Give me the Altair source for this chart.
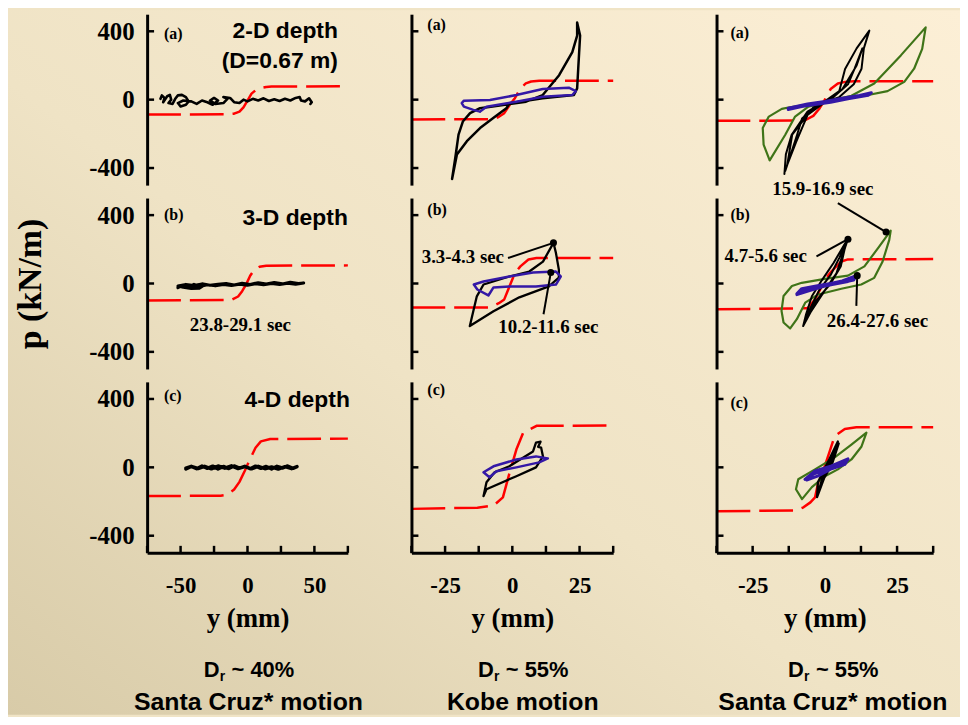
import altair as alt
import pandas as pd

# ---------------- data (y in mm, p in kN/m) ----------------
# red dashed backbone p-y curves
red_1a_y = [-75, -15, -10, -6, -3, 0, 3, 6, 10, 14, 18, 75]
red_1a_p = [-87, -86, -82, -70, -45, -5, 35, 55, 68, 74, 77, 78]
red_1b_y = [-75, -12, -7, -4, -1, 2, 5, 9, 14, 75]
red_1b_p = [-99, -96, -76, -45, -5, 45, 80, 98, 104, 106]
red_1c_y = [-75, -20, -15, -10, -6, -2, 2, 6, 10, 17, 75]
red_1c_p = [-168, -166, -160, -130, -85, -20, 50, 115, 152, 166, 168]
red_2a_y = [-37.5, -7, -5, -3, -1, 1, 3, 5, 7, 10, 37.5]
red_2a_p = [-116, -114, -100, -79, -31, 10, 66, 95, 106, 110, 110]
red_2b_y = [-37.5, -9, -7, -5, -3, -1, 1, 3, 6, 9, 37.5]
red_2b_p = [-141, -140, -131, -115, -93, -15, 62, 100, 140, 149, 149]
red_2c_y = [-37.5, -13, -7, -3.5, -1, 1.5, 4, 9, 37.5]
red_2c_p = [-243, -236, -224, -176, -31, 104, 201, 243, 245]
red_3a_y = [-37.5, -7, -4, -2, 0, 2, 4.5, 7, 10, 37.5]
red_3a_p = [-124, -122, -95, -55, 0, 62, 95, 104, 108, 108]
red_3b_y = [-37.5, -6, -3.4, -1.5, 0, 2.3, 5.7, 8, 37.5]
red_3b_p = [-151, -145, -93, -30, 23, 71, 129, 141, 143]
red_3c_y = [-37.5, -10, -7.4, -5, -3.4, -2.3, 0, 1.7, 3.4, 6.9, 10.9, 37.5]
red_3c_p = [-257, -252, -234, -205, -176, -89, 8, 95, 182, 224, 234, 235]

# black measured loops
bk_1a_y = [-65, -64, -62, -63, -60, -58, -57, -59, -56, -54, -52, -49, -46, -44, -46, -50, -52, -48, -42,
           -38, -34, -30, -26, -22, -25, -28, -24, -18, -15, -18, -13, -10, -6, -3, 0, 4, 8, 12, 16, 20,
           24, 28, 32, 36, 39, 40, 43, 46, 48, 47]
bk_1a_p = [5, 25, 10, -15, 20, 28, 0, -20, -25, 5, 25, 28, 15, -10, -30, -40, -20, -5, -10,
           -25, -5, -15, -30, -5, 10, -5, -25, -20, 5, 15, 10, -15, -20, 0, -10, 5, -5, 8, -8, 2,
           -8, 5, -5, 10, 15, -5, -10, 8, -15, -25]
bk_1b_y = [-52, -48, -44, -40, -36, -32, -36, -42, -48, -52, -46, -40, -34, -28, -22, -16, -10, -4, 2, 8,
           14, 20, 26, 32, 38, 42, 36, 30, 24, 18, 12, 6, 0, -6, -12, -18, -24, -30, -36, -42, -48]
bk_1b_p = [-25, -10, -20, -5, -18, -8, -28, -30, -22, -15, -5, -12, -2, -10, -5, 0, -8, 2, -5, 5,
           -3, 6, -2, 8, 0, 3, -5, 2, -6, 0, -8, -2, -10, -4, -12, -6, -14, -8, -18, -12, -20]
bk_1c_y = [-46, -42, -38, -34, -30, -26, -22, -18, -14, -10, -6, -2, 2, 6, 10, 14, 18, 22, 26, 30,
           34, 37, 33, 28, 23, 18, 13, 8, 3, -2, -7, -12, -17, -22, -27, -32, -37, -42, -46]
bk_1c_p = [-5, 6, -8, 8, -6, 7, -9, 5, -7, 8, -5, 6, -8, 7, -6, 5, -10, 6, -4, 8,
           -6, 4, -8, 4, -10, 2, -8, 6, -9, 4, -7, 9, -5, 8, -9, 6, -7, 5, -10]
bk_2a_y = [-22.4, -21.2, -20, -18.4, -15.7, -12, -3.4, 5.1, 11.3, 17.4, 22.3, 24.1, 24.1, 25.2, 24.5,
           24.1, 22.9, 11.3, -1, -2.2, -7.1, -12, -16.9, -20.6, -22.4]
bk_2a_p = [-464, -340, -205, -128, -79, -50, -31, -12, 27, 143, 278, 375, 452, 375, 181,
           66, 27, 8, -21, -50, -108, -166, -243, -321, -464]
bk_2b_y = [-15.8, -13.2, -10.7, -1.1, 6.3, 11.4, 15.3, 16.2, 17.3, 17.3, 13.6, 2.6, -7, -15.8]
bk_2b_p = [-249, -75, -6, 41, 70, 128, 238, 180, 81, 35, -17, -81, -162, -249]
bk_2c_y = [-10.7, -9.6, -6.6, -1.1, 7.7, 8.8, 10.5, 9.6, 10.7, 11.4, 8.8, 1.5, -9.6, -10.7]
bk_2c_p = [-168, -87, -29, 6, 93, 145, 150, 120, 116, 64, 0, -52, -128, -168]
bk_3a_y = [-14, -13.5, -11.5, -6, 0, 5, 7, 11, 15.4, 13.5, 12.7, 10, 5, -2.4, -7.9, -9.6, -12, -13.7,
           -13, -11.3, -4, 3, 8, 10.3, 13, 11, 6, 0, -6, -10, -13]
bk_3a_p = [-435, -320, -205, -70, -10, 50, 180, 300, 404, 300, 181, 90, 15, -29, -110, -205, -330, -417,
           -380, -205, -45, 15, 90, 181, 300, 200, 60, -15, -90, -250, -380]
bk_3b_y = [-7.5, -6.5, -4.5, -1, 3, 7.9, 6.8, 5.5, 2, -3, -7.5, -5.5, -2, 2, 5, 7.9, 4, 0, -5, -7.5]
bk_3b_p = [-249, -180, -75, 20, 120, 261, 197, 100, 0, -100, -249, -160, -40, 50, 150, 255, 60, -40, -170, -249]
bk_3c_y = [-2.7, -2.4, 1, 4.5, 3.4, -0.7, -2.7, -1.5, 2, 4.8, 2.5, -1.5]
bk_3c_p = [-174, -87, 29, 151, 64, -52, -174, -120, 40, 140, 20, -100]

# blue measured loops
bl_2a_y = [-12, -9.6, 1.5, 11.3, 22.3, 23.6, 21, 11.3, 1.5, -8.3, -18, -18.8, -18, -14.5, -12]
bl_2a_p = [-70, -41, -12, 17, 27, 50, 70, 62, 27, -2, -6, -20, -41, -60, -70]
bl_2b_y = [-14.3, -10.7, -1.1, 7.7, 16.2, 18, 16.2, 8.8, -1.1, -7, -8.9, -13, -14.3]
bl_2b_p = [-6, 12, 41, 64, 70, 41, -6, -17, -17, -23, -70, -35, -6]
bl_2c_y = [-10.7, -7, 1.5, 8.8, 13.2, 10, 1.5, -5.9, -8.5, -10.7]
bl_2c_p = [-29, 6, 46, 64, 52, 29, 0, -23, -58, -29]
bl_3a_y = [-12.7, -6, 0, 6, 12, 16.1, 15, 8, 2, -4, -10, -12.7, -8, -2, 4, 10, 15]
bl_3a_p = [-50, -25, -10, 8, 25, 40, 25, 5, -15, -30, -45, -58, -40, -22, -5, 12, 30]
bl_3b_y = [-9.7, -8, -3, 2, 6, 10.9, 10, 6, 0, -5, -9.7, -8, -3, 3, 8, 10.9]
bl_3b_p = [-60, -30, -15, 0, 15, 46, 20, 5, -15, -40, -65, -45, -25, -5, 12, 35]
bl_3c_y = [-6.9, -3.4, 2.3, 8, 6.9, 2.3, -2.3, -6.3, -4, 1, 5, 8]
bl_3c_p = [-70, -21, 8, 50, 17, -8, -50, -74, -40, -10, 20, 45]

# green measured loops
gr_3a_y = [-19.1, -21.2, -21.5, -19.4, -14.9, -12.6, 0, 9.2, 17.1, 26.3, 34.9, 33.7, 30.9, 27.5, 21.7,
           13.7, 3.4, -5.7, -10.3, -13.7, -19.1]
gr_3a_p = [-355, -263, -166, -99, -54, -46, -12, 23, 95, 259, 423, 297, 181, 104, 50,
           23, -2, -41, -99, -205, -355]
gr_3b_y = [-12, -14.3, -15, -14.3, -11.4, -8, 0, 8, 13.7, 18.8, 22.8, 22.3, 20, 17.1, 12.6, 5.7, -2.3, -6.8, -9.7, -12]
gr_3b_p = [-263, -228, -160, -73, -15, 4, 27, 46, 100, 216, 309, 255, 129, 33, -6, -31, -64, -112, -209, -263]
gr_3c_y = [-7.9, -10, -9.2, -3.4, 3.4, 9.2, 14.4, 12.7, 9.2, 4.5, 0, -4.5, -7.9]
gr_3c_p = [-186, -128, -70, -12, 58, 133, 203, 122, 46, -12, -52, -116, -186]

# annotations (text, y, p)
ann_1b_text = ["23.8-29.1 sec"]
ann_1b_y = [-5.3]
ann_1b_p = [-241]
ann_2b_text = ["3.3-4.3 sec", "10.2-11.6 sec"]
ann_2b_y = [-18.4, 13.4]
ann_2b_p = [157, -252]
ann_3b_text = ["15.9-16.9 sec", "4.7-5.6 sec", "26.4-27.6 sec"]
ann_3b_y = [-0.7, -20.5, 18.2]
ann_3b_p = [551, 159, -217]
# leader lines (from text to dot) and dots
lead_2b_y1 = [-1.6, 11.6]
lead_2b_p1 = [149, -180]
dot_2b_y = [15.3, 14.3]
dot_2b_p = [238, 64]
lead_3b_y1 = [4.5, -2.9, 10.9]
lead_3b_p1 = [470, 158, -131]
dot_3b_y = [21.2, 8, 11.2]
dot_3b_p = [301, 259, 46]

# axes
p_ticks = [-400, 0, 400]
y_dom_1 = [-75, 75]
y_dom_23 = [-37.5, 37.5]
y_ticks_1 = [-75, -50, -25, 0, 25, 50, 75]
y_ticks_23 = [-37.5, -25, -12.5, 0, 12.5, 25, 37.5]
y_labels_1 = [-50, 0, 50]
y_labels_23 = [-25, 0, 25]
panel_tags = ["(a)", "(b)", "(c)"]
depth_titles = ["2-D depth", "3-D depth", "4-D depth"]
dr_values = ["~ 40%", "~ 55%", "~ 55%"]
motions = ["Santa Cruz* motion", "Kobe motion", "Santa Cruz* motion"]

# ---------------- styling ----------------
SERIF = "Liberation Serif"
SANS = "Liberation Sans"
RED = "#ff0000"
BLUE = "#3418a6"
GREEN = "#3f7418"
W = [202, 203, 218]
H = 172

def path_df(xs, ps):
    return pd.DataFrame({"y": xs, "p": ps, "i": list(range(len(xs)))})

one = pd.DataFrame({"k": [0]})


def enc_x(col, row, field="y"):
    dom = y_dom_1 if col == 0 else y_dom_23
    if row == 2:
        ax = alt.Axis(values=y_labels_1 if col == 0 else y_labels_23,
                      labelExpr="'' + datum.value", ticks=False, grid=False,
                      domainColor="black", domainWidth=3, labelFont=SERIF,
                      labelFontWeight="bold", labelFontSize=23, labelColor="black",
                      labelPadding=22, labelFlush=False, labelOverlap=False,
                      title="y (mm)", titleFont=SERIF, titleFontSize=27,
                      titleFontWeight="bold", titleColor="black", titlePadding=8, zindex=1)
    else:
        ax = None
    return alt.X(f"{field}:Q", scale=alt.Scale(domain=dom, nice=False, zero=False), axis=ax)


def enc_y(col, row, field="p"):
    if col == 0:
        kw = dict(values=p_ticks, labelExpr="'' + datum.value", ticks=False, grid=False,
                  domainColor="black", domainWidth=3, labelFont=SERIF, labelFontWeight="bold",
                  labelFontSize=25, labelColor="black", labelPadding=13, labelFlush=False,
                  labelOverlap=False, zindex=1)
        if row == 1:
            kw.update(title="p (kN/m)", titleFont=SERIF, titleFontSize=34, titleFontWeight="bold",
                      titleColor="black", titleX=-117, titleY=86, titleAngle=270,
                      titleBaseline="middle", titleAlign="center")
        else:
            kw.update(title=None)
        ax = alt.Axis(**kw)
    else:
        ax = alt.Axis(labels=False, ticks=False, grid=False, domainColor="black",
                      domainWidth=3, title=None, zindex=1)
    return alt.Y(f"{field}:Q", scale=alt.Scale(domain=[-500, 500], nice=False, zero=False), axis=ax)


def line(col, row, xs, ps, color, width, dash=None):
    kw = dict(color=color, strokeWidth=width, strokeJoin="round", strokeCap="round")
    if dash:
        kw["strokeDash"] = dash
        kw["strokeCap"] = "butt"
    return alt.Chart(path_df(xs, ps)).mark_line(**kw).encode(
        x=enc_x(col, row), y=enc_y(col, row), order=alt.Order("i:Q"))


def text_px(col, row, txt, x, y, font, size, align="left", baseline="middle"):
    return alt.Chart(one).mark_text(text=txt, font=font, fontSize=size, fontWeight="bold",
                                    color="black", align=align, baseline=baseline).encode(
        x=alt.value(x), y=alt.value(y))


def panel(col, row, red, loops, tag_pos, extra=None):
    layers = []
    if col == 0 and row == 0:
        grad = alt.LinearGradient(
            gradient="linear",
            stops=[alt.GradientStop(offset=0, color="#d8cba8"),
                   alt.GradientStop(offset=0.45, color="#efe3c5"),
                   alt.GradientStop(offset=1, color="#fcefd6")],
            x1=0, y1=1, x2=1, y2=0)
        layers.append(alt.Chart(one).mark_rect(color=grad).encode(
            x=alt.value(-140), x2=alt.value(818), y=alt.value(-4), y2=alt.value(705)))
    layers.append(line(col, row, red[0], red[1], RED, 2.5, dash=[34, 9]))
    for xs, ps, c, w in loops:
        layers.append(line(col, row, xs, ps, c, w))
    # inward ticks on p axis
    layers.append(alt.Chart(pd.DataFrame({"p": p_ticks})).mark_rule(color="black", strokeWidth=2.5).encode(
        y=enc_y(col, row), x=alt.value(0), x2=alt.value(7)))
    if row == 2:
        tk = y_ticks_1 if col == 0 else y_ticks_23
        layers.append(alt.Chart(pd.DataFrame({"y": tk})).mark_rule(color="black", strokeWidth=2.5).encode(
            x=enc_x(col, row), y=alt.value(H), y2=alt.value(H - 7)))
    layers.append(text_px(col, row, panel_tags[row], tag_pos[0], tag_pos[1], SERIF, 16))
    if extra:
        layers.extend(extra)
    return alt.layer(*layers).properties(width=W[col], height=H)


def annotations(col, row, texts, ys, ps, ly=None, lp=None, dy=None, dp=None):
    out = []
    if ly is not None:
        out.append(alt.Chart(pd.DataFrame({"y": ly, "p": lp, "y2": dy, "p2": dp})).mark_rule(
            color="black", strokeWidth=2).encode(
            x=enc_x(col, row), y=enc_y(col, row), x2="y2:Q", y2="p2:Q"))
        out.append(alt.Chart(pd.DataFrame({"y": dy, "p": dp})).mark_circle(
            color="black", size=50, opacity=1).encode(x=enc_x(col, row), y=enc_y(col, row)))
    out.append(alt.Chart(pd.DataFrame({"y": ys, "p": ps, "t": texts})).mark_text(
        font=SERIF, fontSize=19, fontWeight="bold", color="black", baseline="middle").encode(
        x=enc_x(col, row), y=enc_y(col, row), text="t:N"))
    return out


def captions(col, center):
    c = center
    return [
        text_px(col, 2, "D", c - 45, 290, SANS, 22),
        text_px(col, 2, "r", c - 29, 297, SANS, 14),
        text_px(col, 2, dr_values[col], c - 17, 290, SANS, 22),
        text_px(col, 2, motions[col], c, 322, SANS, 25, align="center"),
    ]


# column 1
p1a = panel(0, 0, (red_1a_y, red_1a_p), [(bk_1a_y, bk_1a_p, "black", 2.6)], (17, 19.5),
            extra=[text_px(0, 0, depth_titles[0], 192, 16.5, SANS, 23, align="right"),
                   text_px(0, 0, "(D=0.67 m)", 192, 47, SANS, 23, align="right")])
p1b = panel(0, 1, (red_1b_y, red_1b_p), [(bk_1b_y, bk_1b_p, "black", 3)], (17, 17),
            extra=[text_px(0, 1, depth_titles[1], 202, 20, SANS, 23, align="right")]
            + annotations(0, 1, ann_1b_text, ann_1b_y, ann_1b_p))
p1c = panel(0, 2, (red_1c_y, red_1c_p), [(bk_1c_y, bk_1c_p, "black", 3.5)], (17, 14.5),
            extra=[text_px(0, 2, depth_titles[2], 204, 18, SANS, 23, align="right")] + captions(0, 102))

# column 2
p2a = panel(1, 0, (red_2a_y, red_2a_p), [(bk_2a_y, bk_2a_p, "black", 2.5), (bl_2a_y, bl_2a_p, BLUE, 2.5)], (16, 11))
p2b = panel(1, 1, (red_2b_y, red_2b_p), [(bk_2b_y, bk_2b_p, "black", 2.3), (bl_2b_y, bl_2b_p, BLUE, 2.5)], (16, 12),
            extra=annotations(1, 1, ann_2b_text, ann_2b_y, ann_2b_p, lead_2b_y1, lead_2b_p1, dot_2b_y, dot_2b_p))
p2c = panel(1, 2, (red_2c_y, red_2c_p), [(bk_2c_y, bk_2c_p, "black", 2.3), (bl_2c_y, bl_2c_p, BLUE, 2.5)], (16, 8.5),
            extra=captions(1, 112))

# column 3
p3a = panel(2, 0, (red_3a_y, red_3a_p), [(gr_3a_y, gr_3a_p, GREEN, 2.2), (bk_3a_y, bk_3a_p, "black", 2),
                                         (bl_3a_y, bl_3a_p, BLUE, 3)], (14, 19))
p3b = panel(2, 1, (red_3b_y, red_3b_p), [(gr_3b_y, gr_3b_p, GREEN, 2.2), (bk_3b_y, bk_3b_p, "black", 2),
                                         (bl_3b_y, bl_3b_p, BLUE, 3)], (14, 17.5),
            extra=annotations(2, 1, ann_3b_text, ann_3b_y, ann_3b_p, lead_3b_y1, lead_3b_p1, dot_3b_y, dot_3b_p))
p3c = panel(2, 2, (red_3c_y, red_3c_p), [(gr_3c_y, gr_3c_p, GREEN, 2.2), (bk_3c_y, bk_3c_p, "black", 2.3),
                                         (bl_3c_y, bl_3c_p, BLUE, 3)], (14, 21.5),
            extra=captions(2, 117))


def spacer(w):
    return alt.Chart(one).mark_point(opacity=0).encode(
        x=alt.X("k:Q", axis=None), y=alt.Y("k:Q", axis=None)).properties(width=w, height=H)


chart = alt.concat(
    p1a, spacer(64), p2a, spacer(104), p3a,
    p1b, spacer(64), p2b, spacer(104), p3b,
    p1c, spacer(64), p2c, spacer(104), p3c,
    columns=5, spacing={"row": 13, "column": 0}, bounds="flush",
).properties(padding=0, background="#f0e4c6").configure_view(stroke=None)

chart.save("out.html", embed_options={"renderer": "svg", "actions": False})
